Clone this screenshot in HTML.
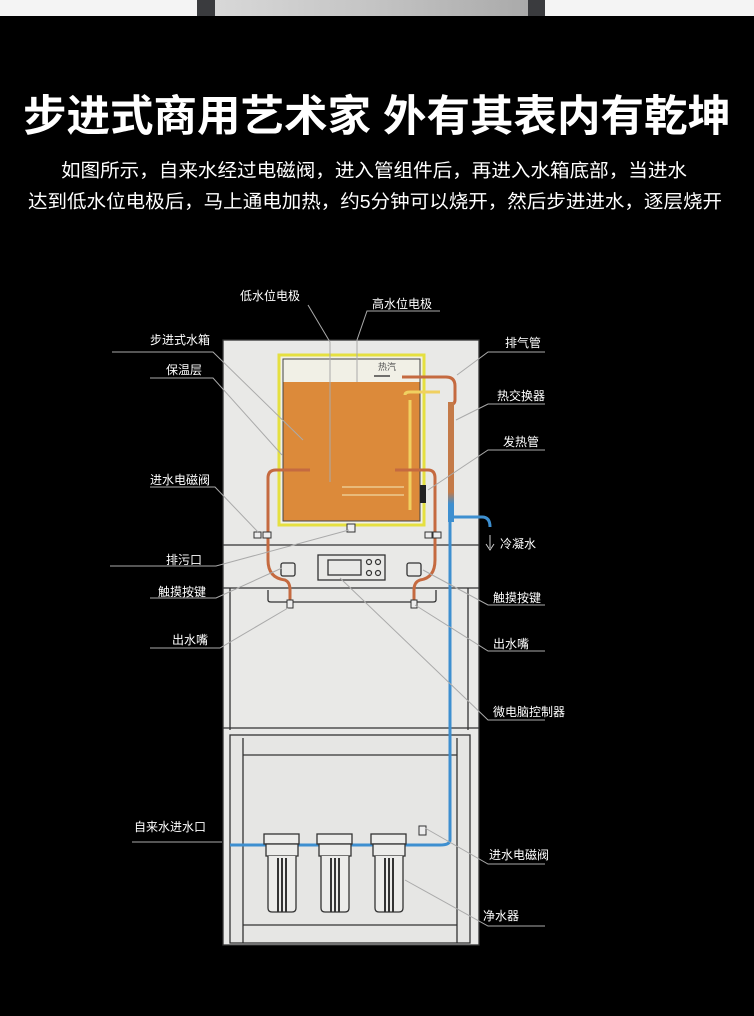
<!DOCTYPE html>
<html><head><meta charset="utf-8"><style>
html,body{margin:0;padding:0;background:#000;}
svg{display:block}
text{font-family:"Liberation Sans","Noto Sans CJK SC",sans-serif;fill:#fff}
</style></head><body>
<svg width="754" height="1016" viewBox="0 0 754 1016" xmlns="http://www.w3.org/2000/svg">
<defs>
<linearGradient id="sil" x1="0" x2="1"><stop offset="0" stop-color="#d8d8d8"/><stop offset="0.5" stop-color="#c4c4c4"/><stop offset="1" stop-color="#aaa"/></linearGradient>
<linearGradient id="cp" x1="0" y1="0" x2="0" y2="1"><stop offset="0" stop-color="#c47a48"/><stop offset="0.75" stop-color="#c47a48"/><stop offset="0.85" stop-color="#3d8fd0"/></linearGradient>
</defs>
<rect width="754" height="1016" fill="#000"/>
<rect x="0" y="0" width="754" height="16" fill="#f4f4f4"/>
<rect x="197" y="0" width="348" height="16" fill="#3a3b3e"/>
<rect x="215" y="0" width="313" height="16" fill="url(#sil)"/>
<text x="377" y="131" font-size="43" font-weight="bold" text-anchor="middle" textLength="708" lengthAdjust="spacingAndGlyphs">步进式商用艺术家 外有其表内有乾坤</text>
<text x="374" y="177" font-size="18.5" text-anchor="middle" textLength="626" lengthAdjust="spacingAndGlyphs">如图所示，自来水经过电磁阀，进入管组件后，再进入水箱底部，当进水</text>
<text x="375" y="208" font-size="18.5" text-anchor="middle" textLength="694" lengthAdjust="spacingAndGlyphs">达到低水位电极后，马上通电加热，约5分钟可以烧开，然后步进进水，逐层烧开</text>

<g stroke="#333" stroke-width="1.3" fill="#e9e9e7">
<rect x="223" y="340" width="256" height="605"/>
<rect x="230" y="735" width="240" height="208" fill="#e6e6e4"/>
<line x1="243" y1="738" x2="243" y2="943"/><line x1="457" y1="738" x2="457" y2="943"/>
<line x1="243" y1="755" x2="457" y2="755"/><line x1="243" y1="925" x2="457" y2="925"/>
<line x1="223" y1="545" x2="479" y2="545"/>
<line x1="223" y1="588" x2="479" y2="588"/>
<line x1="230" y1="588" x2="230" y2="730"/><line x1="468" y1="588" x2="468" y2="730"/>
<line x1="223" y1="728" x2="479" y2="728"/>
<path d="M268 590 V600 Q268 602 271 602 H433 Q436 602 436 600 V590" fill="none"/>
<rect x="318" y="555" width="67" height="25" fill="#e9e9e7"/>
<rect x="328" y="560" width="33" height="15" fill="#e9e9e7"/>
<rect x="281" y="563" width="14" height="13" rx="2"/>
<rect x="407" y="563" width="14" height="13" rx="2"/>
</g>
<g fill="none" stroke="#333" stroke-width="1.2"><circle cx="369" cy="562" r="2.5"/><circle cx="378" cy="562" r="2.5"/><circle cx="369" cy="573" r="2.5"/><circle cx="378" cy="573" r="2.5"/></g>
<rect x="279" y="355" width="145" height="170" fill="#f1f0e6" stroke="#e5e040" stroke-width="3"/>
<rect x="283" y="382" width="137" height="139" fill="#dc8a3a"/>
<rect x="283" y="359" width="137" height="162" fill="none" stroke="#444" stroke-width="1"/>
<text x="378" y="370" font-size="9" style="fill:#555">热汽</text>
<line x1="374" y1="376" x2="390" y2="376" stroke="#444" stroke-width="1.5"/>
<path d="M410 400 V510 M405 395 Q405 392 410 392 H440" stroke="#f0d060" stroke-width="3" fill="none"/>
<path d="M342 487 H404 M342 495 H404" stroke="#f0d8a0" stroke-width="1.2" fill="none"/>
<rect x="420" y="485" width="6" height="18" fill="#222"/>
<g stroke="#c56a40" stroke-width="3" fill="none">
<path d="M310 470 H276 Q268 470 268 478 V560 Q268 578 285 580 Q290 582 290 590 V603"/>
<path d="M395 470 H428 Q435 470 435 478 V560 Q435 578 420 580 Q414 582 414 590 V603"/>
<path d="M402 377 H446 Q455 377 455 386 V400 Q455 405 448 405"/>
</g>
<rect x="448" y="402" width="6" height="120" fill="url(#cp)"/>
<g stroke="#3d8fd0" stroke-width="3" fill="none">
<path d="M450 520 V840 Q450 845 440 845 H230"/>
<path d="M452 517 H482 Q490 517 490 527"/>
</g>
<path d="M490 535 V548 M486 544 L490 550 L494 544" stroke="#ccc" stroke-width="1" fill="none"/>
<g fill="#eee" stroke="#333" stroke-width="1"><rect x="254" y="532" width="7" height="6"/><rect x="263" y="532" width="8" height="6"/><rect x="425" y="532" width="7" height="6"/><rect x="433" y="532" width="8" height="6"/><rect x="347" y="524" width="8" height="8"/><rect x="287" y="600" width="6" height="8"/><rect x="411" y="600" width="6" height="8"/><rect x="419" y="826" width="7" height="9"/></g>
<g fill="#ececea" stroke="#333" stroke-width="1.3">
<g id="f"><rect x="264" y="834" width="35" height="10"/><rect x="266" y="844" width="32" height="12"/><path d="M268 856 V908 Q268 912 272 912 H292 Q296 912 296 908 V856"/><path d="M278 858 V912 M282 858 V912 M286 858 V912" stroke-width="2"/></g>
<use href="#f" x="53"/><use href="#f" x="107"/>
</g>
<g stroke="#aaa" stroke-width="1" fill="none">
<path d="M308 305 L330 342 V482"/>
<path d="M440 311 H367 L357 340 V382"/>
<path d="M112 352 H213 L303 440"/>
<path d="M150 378 H213 L282 455"/>
<path d="M150 487 H215 L258 532"/>
<path d="M110 566 H216 L349 530"/>
<path d="M150 598 H216 L282 568"/>
<path d="M150 648 H220 L288 608"/>
<path d="M132 842 H222"/>
<path d="M545 352 H488 L457 375"/>
<path d="M545 404 H488 L456 420"/>
<path d="M545 450 H488 L428 490"/>
<path d="M545 605 H488 L423 570"/>
<path d="M545 651 H488 L415 605"/>
<path d="M545 720 H488 L340 578"/>
<path d="M545 864 H488 L425 828"/>
<path d="M545 926 H488 L405 880"/>
</g>
<g font-size="12">
<text x="240" y="300">低水位电极</text>
<text x="372" y="308">高水位电极</text>
<text x="150" y="344">步进式水箱</text>
<text x="166" y="374">保温层</text>
<text x="150" y="484">进水电磁阀</text>
<text x="166" y="564">排污口</text>
<text x="158" y="596">触摸按键</text>
<text x="172" y="644">出水嘴</text>
<text x="134" y="831">自来水进水口</text>
<text x="505" y="347">排气管</text>
<text x="497" y="400">热交换器</text>
<text x="503" y="446">发热管</text>
<text x="500" y="548">冷凝水</text>
<text x="493" y="602">触摸按键</text>
<text x="493" y="648">出水嘴</text>
<text x="493" y="716">微电脑控制器</text>
<text x="489" y="859">进水电磁阀</text>
<text x="483" y="920">净水器</text>
</g>
</svg>
</body></html>
